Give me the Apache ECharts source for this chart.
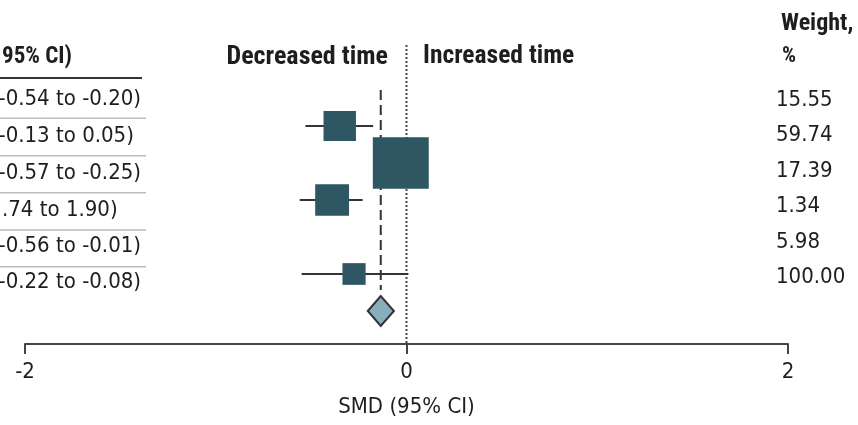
<!DOCTYPE html>
<html><head><meta charset="utf-8">
<script src="https://cdn.jsdelivr.net/npm/echarts@6/dist/echarts.min.js"></script>
<style>html,body{margin:0;padding:0;background:#fff;overflow:hidden}#c{width:858px;height:425px}</style>
</head><body><div id="c"></div>
<script>
// ---- data ----
const ciLabels = ["-0.54 to -0.20)", "-0.13 to 0.05)", "-0.57 to -0.25)", ".74 to 1.90)", "-0.56 to -0.01)", "-0.22 to -0.08)"];
const ciHeader = "95% CI)";
const weightLabels = ["15.55", "59.74", "17.39", "1.34", "5.98", "100.00"];
const weights = [15.55, 59.74, 17.39, 1.34, 5.98, 100.00];
const estimates = [-0.35, -0.03, -0.39, null, -0.275, -0.135];
const lowerCI = [-0.53, -0.13, -0.56, null, -0.55, -0.203];
const upperCI = [-0.175, 0.05, -0.23, null, 0.01, -0.066];
const summaryRow = 5;
const summaryEstimate = -0.135;
const xTicks = [-2, 0, 2];
const leftHeading = "Decreased time";
const rightHeading = "Increased time";
const axisTitle = "SMD (95% CI)";
const weightHeader = ["Weight,", "%"];

// ---- layout ----
const FF = '"DejaVu Sans Condensed",sans-serif';
const FH = '"Roboto Condensed","DejaVu Sans Condensed",sans-serif';
const TXT = '#1e1e1e';
const chart = echarts.init(document.getElementById('c'));

const seriesData = [];
estimates.forEach((e, i) => {
  if (e === null) return;
  seriesData.push([e, i + 1, lowerCI[i], upperCI[i], weights[i], i === summaryRow ? 1 : 0]);
});

function renderItem(params, api) {
  const est = api.value(0), row = api.value(1), lo = api.value(2), hi = api.value(3), w = api.value(4), isSum = api.value(5);
  const c = api.coord([est, row]), l = api.coord([lo, row]), h = api.coord([hi, row]);
  if (isSum) {
    const hh = 15;
    return { type: 'polygon', z2: 10,
      shape: { points: [[l[0], c[1]], [c[0], c[1] - hh], [h[0], c[1]], [c[0], c[1] + hh]] },
      style: { fill: '#88aebc', stroke: '#333', lineWidth: 2 } };
  }
  const sw = 8 + 6.2 * Math.sqrt(w), sh = 8 + 5.6 * Math.sqrt(w);
  return { type: 'group', children: [
    { type: 'line', shape: { x1: l[0], y1: c[1], x2: h[0], y2: c[1] }, style: { stroke: '#333', lineWidth: 2 } },
    { type: 'rect', shape: { x: c[0] - sw / 2, y: c[1] - sh / 2, width: sw, height: sh }, style: { fill: '#2e5663' } }
  ]};
}

const Y_MIN = -2, Y_MAX = 6.892;
const graphics = [];
// left CI text column
graphics.push({ type: 'text', x: 72, y: 57, style: { text: ciHeader, font: 'bold 23px ' + FH, fill: TXT, textAlign: 'right', textVerticalAlign: 'middle' } });
graphics.push({ type: 'line', shape: { x1: 0, y1: 78, x2: 142, y2: 78 }, style: { stroke: '#333', lineWidth: 2 } });
const rowY = [99.3, 136, 173.5, 210.5, 246, 282];
ciLabels.forEach((t, i) => {
  const y = rowY[i];
  graphics.push({ type: 'text', x: i === 3 ? 2 : -1.5, y: y, style: { text: t, font: '22px ' + FF, fill: TXT, textVerticalAlign: 'middle' } });
});
[118.3, 155.7, 192.7, 230, 266.7].forEach(ys => {
  graphics.push({ type: 'line', shape: { x1: 0, y1: ys, x2: 146, y2: ys }, style: { stroke: '#bdbdbd', lineWidth: 1.5 } });
});
// weight column
graphics.push({ type: 'text', x: 781, y: 24, style: { text: weightHeader[0], font: 'bold 24px ' + FH, fill: TXT, textVerticalAlign: 'middle' } });
graphics.push({ type: 'text', x: 782, y: 56, style: { text: weightHeader[1], font: 'bold 22px ' + FH, fill: TXT, textVerticalAlign: 'middle' } });
weightLabels.forEach((t, i) => {
  graphics.push({ type: 'text', x: 776, y: 100 + i * 35.5, style: { text: t, font: '22px ' + FF, fill: TXT, textVerticalAlign: 'middle' } });
});
// headings
graphics.push({ type: 'text', x: 388, y: 57, style: { text: leftHeading, font: 'bold 26px ' + FH, fill: TXT, textAlign: 'right', textVerticalAlign: 'middle' } });
graphics.push({ type: 'text', x: 423, y: 57, style: { text: rightHeading, font: 'bold 25.5px ' + FH, fill: TXT, textAlign: 'left', textVerticalAlign: 'middle' } });

chart.setOption({
  animation: false,
  backgroundColor: '#fff',
  grid: { left: 25, right: 70, top: 15, bottom: 81 },
  xAxis: {
    type: 'value', min: xTicks[0], max: xTicks[xTicks.length - 1], interval: 2,
    splitLine: { show: false },
    axisLine: { show: true, onZero: false, lineStyle: { color: '#444', width: 2 } },
    axisTick: { show: true, length: 10, lineStyle: { color: '#444', width: 2 } },
    axisLabel: { fontFamily: FF, fontSize: 22, color: TXT, margin: 17 },
    name: axisTitle, nameLocation: 'middle', nameGap: 52,
    nameTextStyle: { fontFamily: FF, fontSize: 22, color: TXT }
  },
  yAxis: { type: 'value', inverse: true, min: Y_MIN, max: Y_MAX, show: false },
  graphic: graphics,
  series: [
    { type: 'line', symbol: 'none', silent: true, z: 1,
      data: [[0, -1.19], [0, Y_MAX]],
      lineStyle: { color: '#444', width: 2, type: [2, 2] } },
    { type: 'line', symbol: 'none', silent: true, z: 1,
      data: [[summaryEstimate, 0.03], [summaryEstimate, 5.43]],
      lineStyle: { color: '#333', width: 2, type: [10, 5] } },
    { type: 'custom', renderItem: renderItem, data: seriesData, z: 5, clip: false,
      encode: { x: 0, y: 1 } }
  ]
});
</script></body></html>
